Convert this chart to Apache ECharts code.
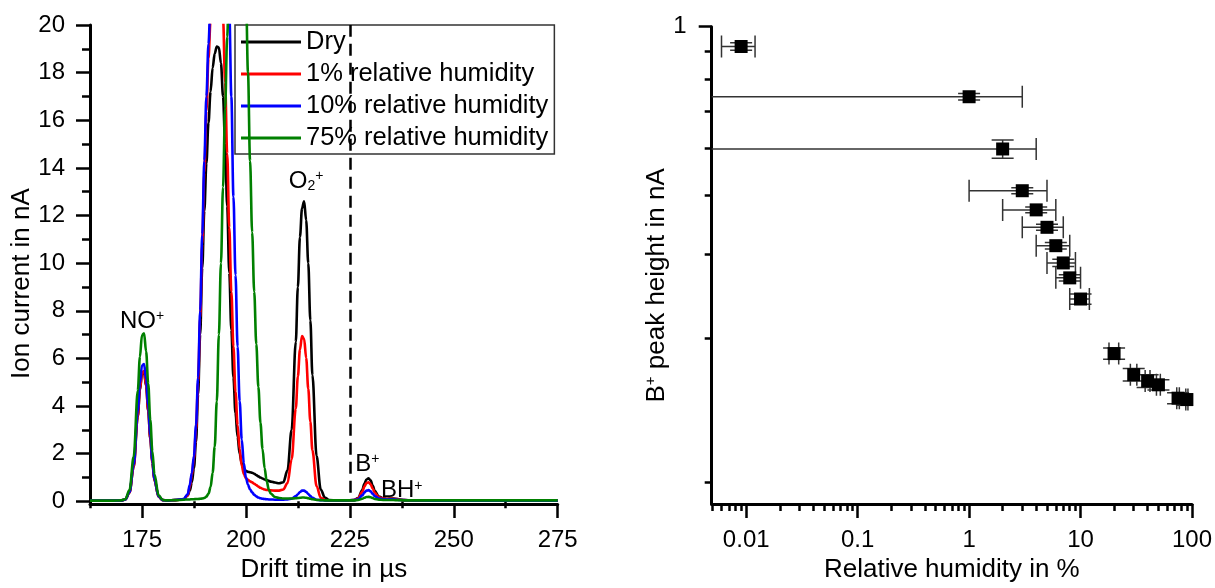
<!DOCTYPE html>
<html><head><meta charset="utf-8">
<script src="https://cdn.jsdelivr.net/npm/echarts@6/dist/echarts.min.js"></script>
<style>html,body{margin:0;padding:0;background:#fff}#c{width:1215px;height:588px}</style>
</head><body><div id="c"></div>
<script>
// ---------------- Left panel: ion mobility spectra ----------------
const seriesNames = ['Dry', '1% relative humidity', '10% relative humidity', '75% relative humidity'];
const driftTime = [
  162.5,165,168,170,171,172,173,174,174.5,175,
  175.5,176,176.5,177,177.5,178,179,180,181,183,
  185,186,186.5,187,187.5,188,188.5,189,189.5,190,
  190.5,191,191.5,192,192.5,193,193.5,194,194.5,195,
  195.5,196,196.5,197,197.5,198,198.5,199,199.5,200,
  200.5,201,201.5,202,202.5,203,203.5,204,204.5,205,
  205.5,206,207,208,209,210,211,212,212.5,213,
  213.5,214,214.5,215,215.5,216,217,218,219,220,
  222,224,226,227,228,228.5,229,229.5,230,230.5,
  231,232,233,234,235,236,237,238,240,245,
  250,260,275
];
const currentDry = [
  0.03,0.03,0.03,0.04,0.08,0.37,1.44,3.57,4.66,5.35,
  5.42,4.84,3.8,2.63,1.62,0.88,0.2,0.05,0.04,0.05,
  0.08,0.25,0.45,0.8,1.4,2.5,4.5,7.0,9.8,12.2,
  14.2,15.9,17.2,18.2,18.8,19.1,19.05,18.4,17.0,15.0,
  12.4,9.6,7.2,5.2,3.7,2.7,2.0,1.6,1.38,1.28,
  1.24,1.22,1.2,1.16,1.1,1.05,1.0,0.96,0.92,0.89,
  0.86,0.83,0.79,0.76,0.8,1.3,3.0,6.7,9.0,11.1,
  12.3,12.6,11.8,10.0,7.6,5.3,1.9,0.5,0.16,0.06,
  0.04,0.04,0.05,0.14,0.48,0.74,0.92,0.97,0.88,0.66,
  0.44,0.2,0.13,0.11,0.12,0.11,0.08,0.05,0.04,0.03,
  0.03,0.03,0.03
];
const currentRH1 = [
  0.03,0.03,0.03,0.04,0.08,0.37,1.45,3.6,4.7,5.4,
  5.47,4.88,3.84,2.66,1.63,0.89,0.2,0.05,0.04,0.05,
  0.09,0.25,0.6,1.1,1.8,3.0,5.0,7.7,10.8,13.8,
  16.4,18.6,20.2,22.0,23.3,24.0,23.8,22.3,20.3,17.6,
  14.6,11.5,8.8,6.5,4.6,3.2,2.2,1.5,1.15,0.98,
  0.9,0.84,0.8,0.74,0.68,0.62,0.57,0.53,0.5,0.48,
  0.47,0.46,0.45,0.45,0.5,0.77,1.76,3.9,5.24,6.37,
  6.94,6.82,6.02,4.73,3.35,2.14,0.64,0.15,0.06,0.04,
  0.04,0.04,0.05,0.12,0.4,0.62,0.77,0.8,0.72,0.54,
  0.36,0.17,0.12,0.1,0.11,0.1,0.07,0.05,0.04,0.03,
  0.03,0.03,0.03
];
const currentRH10 = [
  0.03,0.03,0.03,0.04,0.08,0.39,1.53,3.8,4.95,5.7,
  5.77,5.14,4.05,2.8,1.72,0.93,0.21,0.05,0.04,0.06,
  0.1,0.3,0.7,1.2,1.9,3.2,5.2,8.0,11.2,14.3,
  17.0,19.2,21.0,23.0,24.6,25.6,26.0,26.0,25.4,24.4,
  22.8,20.6,17.0,12.8,9.5,6.5,4.2,2.6,1.6,1.0,
  0.7,0.5,0.38,0.28,0.21,0.16,0.13,0.11,0.1,0.09,
  0.08,0.08,0.07,0.07,0.07,0.08,0.11,0.22,0.3,0.39,
  0.45,0.45,0.4,0.31,0.22,0.15,0.07,0.05,0.04,0.04,
  0.04,0.04,0.05,0.09,0.25,0.37,0.45,0.47,0.42,0.32,
  0.22,0.12,0.09,0.08,0.09,0.08,0.06,0.05,0.04,0.03,
  0.03,0.03,0.03
];
const currentRH75 = [
  0.03,0.03,0.03,0.04,0.09,0.47,1.87,4.65,6.06,6.97,
  7.06,6.29,4.95,3.42,2.1,1.14,0.25,0.06,0.04,0.05,
  0.07,0.08,0.08,0.09,0.09,0.1,0.1,0.11,0.12,0.14,
  0.2,0.32,0.6,1.2,2.3,4.2,7.0,10.0,13.2,16.5,
  19.5,22.2,24.5,26.2,27.3,27.8,27.6,26.6,24.6,21.5,
  18.0,14.3,11.3,8.8,6.6,4.8,3.3,2.2,1.4,0.85,
  0.5,0.32,0.18,0.14,0.12,0.12,0.12,0.13,0.14,0.15,
  0.16,0.16,0.15,0.13,0.11,0.09,0.06,0.05,0.04,0.04,
  0.04,0.04,0.04,0.06,0.11,0.15,0.18,0.19,0.17,0.14,
  0.1,0.07,0.06,0.06,0.06,0.05,0.05,0.04,0.04,0.04,
  0.04,0.04,0.04
];
const seriesColors = ['#000000', '#ff0000', '#0000ff', '#008000'];
const leftXMajorTicks = [175, 200, 225, 250, 275];
const leftXMinorTicks = [162.5, 187.5, 212.5, 237.5, 262.5];
const leftYMajorTicks = [0, 2, 4, 6, 8, 10, 12, 14, 16, 18, 20];
const leftYMinorTicks = [1, 3, 5, 7, 9, 11, 13, 15, 17, 19];
const dashedLineTime = [225];
const dashedLineRange = [0.36, 20];

// ---------------- Right panel: B+ peak height vs humidity ----------------
const humidity      = [0.009, 1, 2, 3, 4, 5, 6, 7, 8, 10, 20, 30, 40, 50, 75, 90];
const peakHeight    = [0.818, 0.642, 0.499, 0.408, 0.372, 0.342, 0.313, 0.288, 0.268, 0.242, 0.186, 0.168, 0.163, 0.160, 0.150, 0.149];
const humidityErr   = [0.003, 2, 2, 2, 2, 2, 2, 2, 2, 2, 2, 2, 2, 2, 2, 2];
const peakHeightErr = [0.015, 0.010, 0.022, 0.006, 0.005, 0.005, 0.005, 0.005, 0.004, 0.006, 0.005, 0.005, 0.005, 0.004, 0.004, 0.004];
const rightXMajorTicks = [0.01, 0.1, 1, 10, 100];
const rightXMajorLabels = ['0.01', '0.1', '1', '10', '100'];
const rightXMinorTicks = [0.005,0.006,0.007,0.008,0.009, 0.02,0.03,0.04,0.05,0.06,0.07,0.08,0.09,
  0.2,0.3,0.4,0.5,0.6,0.7,0.8,0.9, 2,3,4,5,6,7,8,9, 20,30,40,50,60,70,80,90];
const rightYMajorTicks = [0.9];
const rightYMinorTicks = [0.1, 0.2, 0.3, 0.4, 0.5, 0.6, 0.7, 0.8];
const rightXRange = [0.0049, 100];
const rightYRange = [0.09, 0.9];

// ---------------- Annotations (data coordinates of the left panel) ----------------
const annotations = [
  { text: '{m|NO}{sup|+}', time: 169.7, current: 7.55 },
  { text: '{m|O}{sub|2}{sup|+}', time: 210.3, current: 13.45 },
  { text: '{m|B}{sup|+}', time: 226.3, current: 1.55 },
  { text: '{m|BH}{sup|+}', time: 232.5, current: 0.45 }
];

const FONT = '"Liberation Sans", Arial, sans-serif';
const chart = echarts.init(document.getElementById('c'), null, { renderer: 'canvas' });

const lineSeries = [currentDry, currentRH1, currentRH10, currentRH75].map((vals, i) => ({
  name: seriesNames[i],
  type: 'line',
  xAxisIndex: 0, yAxisIndex: 0,
  data: driftTime.map((t, j) => [t, vals[j]]),
  showSymbol: false, symbol: 'none',
  smooth: 0.35, smoothMonotone: 'x',
  clip: true,
  color: seriesColors[i],
  itemStyle: { color: seriesColors[i] },
  lineStyle: { color: seriesColors[i], width: 2.6 },
  z: 2 + i
}));
lineSeries[0].markLine = {
  silent: true, symbol: 'none', animation: false,
  label: { show: false },
  lineStyle: { color: '#000', width: 2.5, type: [12, 7] },
  data: [[{ coord: [dashedLineTime[0], dashedLineRange[0]] }, { coord: [dashedLineTime[0], dashedLineRange[1]] }]]
};

function errorBars(params, api) {
  const x = api.value(0), y = api.value(1), xe = api.value(2), ye = api.value(3);
  const c = api.coord([x, y]);
  const low = x - xe;
  const hasLow = low > rightXRange[0];
  const pl = api.coord([hasLow ? low : rightXRange[0], y]);
  const pr = api.coord([x + xe, y]);
  const pt = api.coord([x, y + ye]);
  const pb = api.coord([x, y - ye]);
  const cap = 11;
  const st = { stroke: '#333', lineWidth: 1.5 };
  const ch = [
    { type: 'line', shape: { x1: pl[0], y1: c[1], x2: pr[0], y2: c[1] }, style: st },
    { type: 'line', shape: { x1: pr[0], y1: c[1] - cap, x2: pr[0], y2: c[1] + cap }, style: st },
    { type: 'line', shape: { x1: c[0], y1: pt[1], x2: c[0], y2: pb[1] }, style: st },
    { type: 'line', shape: { x1: c[0] - cap, y1: pt[1], x2: c[0] + cap, y2: pt[1] }, style: st },
    { type: 'line', shape: { x1: c[0] - cap, y1: pb[1], x2: c[0] + cap, y2: pb[1] }, style: st }
  ];
  if (hasLow) ch.push({ type: 'line', shape: { x1: pl[0], y1: c[1] - cap, x2: pl[0], y2: c[1] + cap }, style: st });
  return { type: 'group', children: ch };
}

const axisLine = { show: true, onZero: false, lineStyle: { color: '#000', width: 3 } };
const tickStyle = { color: '#000', width: 2.5 };
const labelStyle = { color: '#000', fontSize: 24, fontFamily: FONT };
const nameStyle = { color: '#000', fontSize: 26, fontFamily: FONT };

const option = {
  animation: false,
  backgroundColor: '#fff',
  grid: [
    { left: 90, top: 25, width: 467.7, height: 488.5 },
    { left: 711.7, top: 26.7, width: 481, height: 485.8 }
  ],
  legend: {
    data: seriesNames,
    orient: 'vertical',
    left: 235, top: 25,
    icon: 'rect',
    itemWidth: 60, itemHeight: 3, itemGap: 6,
    padding: [4, 6, 3, 6],
    backgroundColor: '#fff',
    borderColor: '#333', borderWidth: 1.5,
    textStyle: { color: '#000', fontSize: 25.5, lineHeight: 24, fontFamily: FONT },
    selectedMode: false
  },
  xAxis: [
    { gridIndex: 0, type: 'value', min: 162.5, max: 275, position: 'bottom',
      axisLine: axisLine,
      axisTick: { show: true, customValues: leftXMajorTicks, length: 14, lineStyle: tickStyle },
      axisLabel: Object.assign({ customValues: leftXMajorTicks, margin: 24 }, labelStyle),
      splitLine: { show: false },
      name: 'Drift time in µs', nameLocation: 'middle', nameGap: 52, nameTextStyle: nameStyle },
    { gridIndex: 0, type: 'value', min: 162.5, max: 275, position: 'bottom', offset: 0,
      axisLine: { show: false },
      axisTick: { show: true, customValues: leftXMinorTicks, length: 7, lineStyle: tickStyle },
      axisLabel: { show: false }, splitLine: { show: false } },
    { gridIndex: 1, type: 'log', logBase: 10, min: rightXRange[0], max: rightXRange[1], position: 'bottom',
      axisLine: axisLine,
      axisTick: { show: true, customValues: rightXMajorTicks, length: 14, lineStyle: tickStyle },
      axisLabel: Object.assign({ customValues: rightXMajorTicks, margin: 24,
        formatter: v => { let best = 0; rightXMajorTicks.forEach((t, i) => { if (Math.abs(Math.log10(t) - Math.log10(v)) < Math.abs(Math.log10(rightXMajorTicks[best]) - Math.log10(v))) best = i; }); return rightXMajorLabels[best]; } }, labelStyle),
      splitLine: { show: false },
      name: 'Relative humidity in %', nameLocation: 'middle', nameGap: 52, nameTextStyle: nameStyle },
    { gridIndex: 1, type: 'log', logBase: 10, min: rightXRange[0], max: rightXRange[1], position: 'bottom', offset: 0,
      axisLine: { show: false },
      axisTick: { show: true, customValues: rightXMinorTicks, length: 7, lineStyle: tickStyle },
      axisLabel: { show: false }, splitLine: { show: false } }
  ],
  yAxis: [
    { gridIndex: 0, type: 'value', min: -0.115, max: 20, position: 'left',
      axisLine: axisLine,
      axisTick: { show: true, customValues: leftYMajorTicks, length: 14, lineStyle: tickStyle },
      axisLabel: Object.assign({ customValues: leftYMajorTicks, margin: 25 }, labelStyle),
      splitLine: { show: false },
      name: 'Ion current in nA', nameLocation: 'middle', nameGap: 47,
      nameTextStyle: Object.assign({}, nameStyle, { padding: [0, 38, 0, 0] }) },
    { gridIndex: 0, type: 'value', min: -0.115, max: 20, position: 'left', offset: 0,
      axisLine: { show: false },
      axisTick: { show: true, customValues: leftYMinorTicks, length: 8, lineStyle: tickStyle },
      axisLabel: { show: false }, splitLine: { show: false } },
    { gridIndex: 1, type: 'log', logBase: 10, min: rightYRange[0], max: rightYRange[1], position: 'left',
      axisLine: axisLine,
      axisTick: { show: true, customValues: rightYMajorTicks, length: 13, lineStyle: tickStyle },
      axisLabel: Object.assign({ customValues: rightYMajorTicks, margin: 25, formatter: v => String(Math.round(v)) }, labelStyle),
      splitLine: { show: false },
      name: '{n|B}{s|+}{n| peak height in nA}', nameLocation: 'middle', nameGap: 35,
      nameTextStyle: Object.assign({}, nameStyle, { padding: [0, 40, 0, 0], rich: {
        n: { fontSize: 26, fontFamily: FONT, color: '#000' },
        s: { fontSize: 15, fontFamily: FONT, color: '#000', verticalAlign: 'top' } } }) },
    { gridIndex: 1, type: 'log', logBase: 10, min: rightYRange[0], max: rightYRange[1], position: 'left', offset: 0,
      axisLine: { show: false },
      axisTick: { show: true, customValues: rightYMinorTicks, length: 7, lineStyle: tickStyle },
      axisLabel: { show: false }, splitLine: { show: false } }
  ],
  series: lineSeries.concat([
    { name: 'errors', type: 'custom', xAxisIndex: 2, yAxisIndex: 2,
      renderItem: errorBars, clip: true,
      encode: { x: 0, y: 1 },
      data: humidity.map((h, i) => [h, peakHeight[i], humidityErr[i], peakHeightErr[i]]), z: 5 },
    { name: 'B+ peak height', type: 'scatter', xAxisIndex: 2, yAxisIndex: 2,
      symbol: 'rect', symbolSize: 13, itemStyle: { color: '#000', opacity: 1 },
      data: humidity.map((h, i) => [h, peakHeight[i]]), z: 6 }
  ])
};
chart.setOption(option);

const rich = {
  m: { fontSize: 24, fontFamily: FONT, fill: '#000', color: '#000' },
  sup: { fontSize: 14, fontFamily: FONT, fill: '#000', color: '#000', verticalAlign: 'top' },
  sub: { fontSize: 14, fontFamily: FONT, fill: '#000', color: '#000', verticalAlign: 'bottom' }
};
chart.setOption({
  graphic: annotations.map(a => {
    const p = chart.convertToPixel({ xAxisIndex: 0, yAxisIndex: 0 }, [a.time, a.current]);
    return { type: 'text', x: p[0], y: p[1], z: 10,
      style: { text: a.text, rich: rich, fill: '#000', align: 'left', verticalAlign: 'middle', font: '24px ' + FONT } };
  })
});
</script>
</body></html>
